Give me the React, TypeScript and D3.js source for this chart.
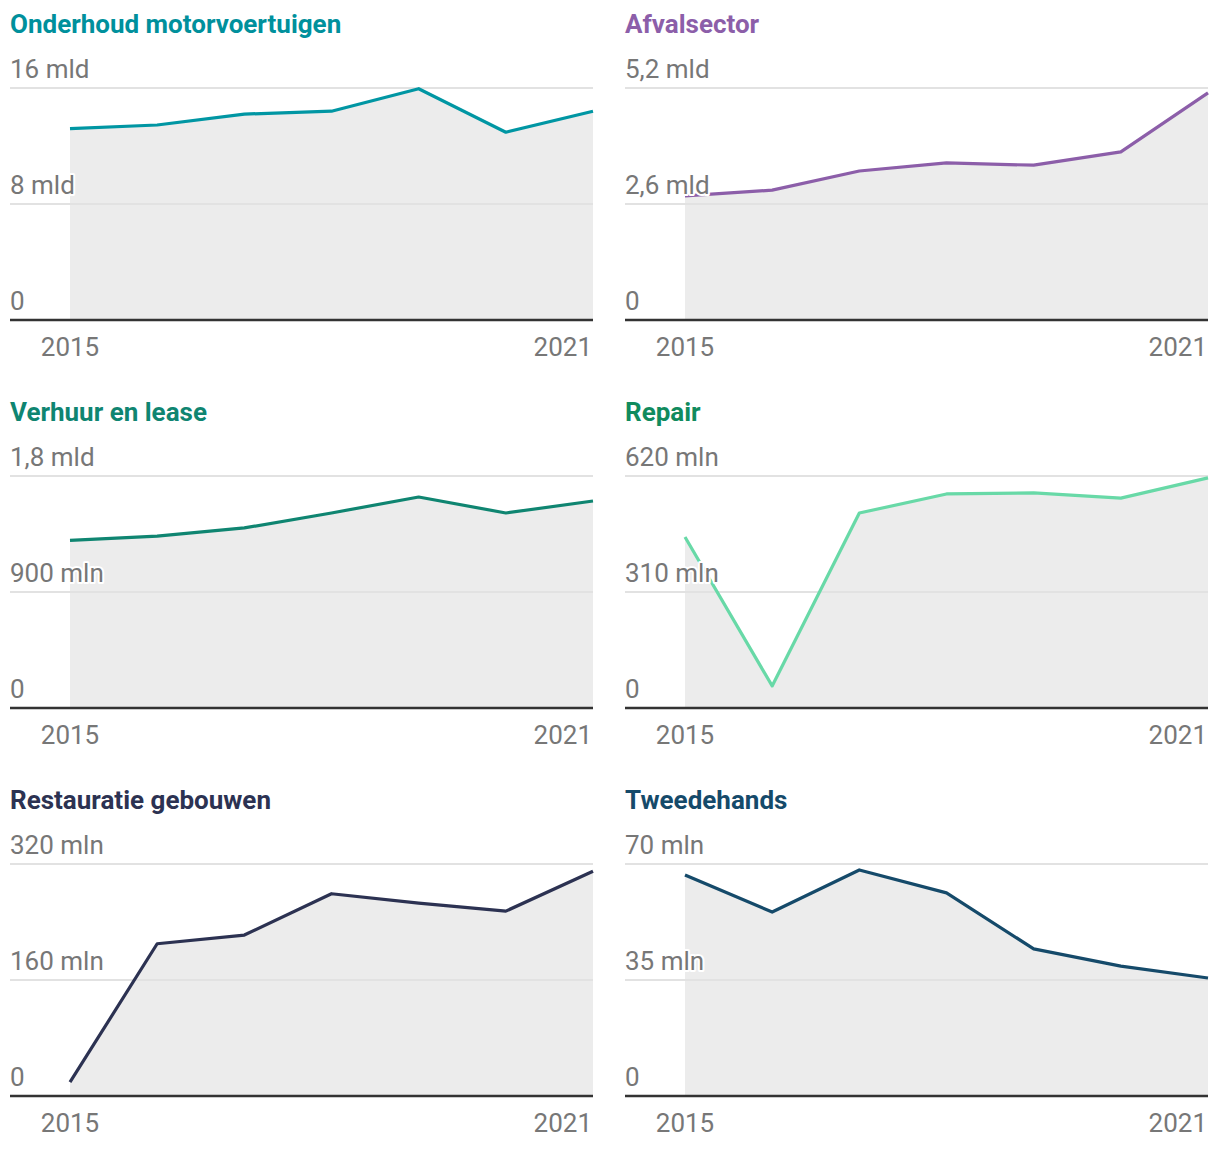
// @ts-nocheck
import React from "react";
import * as d3 from "d3";

const years = [2015, 2016, 2017, 2018, 2019, 2020, 2021];

const titles = [
  "Onderhoud motorvoertuigen",
  "Afvalsector",
  "Verhuur en lease",
  "Repair",
  "Restauratie gebouwen",
  "Tweedehands",
];

const colors = ["#0096a3", "#8c5ea9", "#0f8571", "#68d9a7", "#2c3252", "#154a6a"];
const titleColors = ["#00909c", "#8c5ea9", "#0f8571", "#108b5e", "#2c3252", "#154a6a"];

// values in mld / mln as in the axis units
const onderhoud = [13.2, 13.45, 14.2, 14.4, 15.95, 12.95, 14.4];
const afval = [2.78, 2.91, 3.34, 3.52, 3.47, 3.77, 5.09];
const verhuur = [1.3, 1.334, 1.397, 1.513, 1.637, 1.513, 1.606];
const repair = [457, 59, 521, 572, 575, 561, 615];
const restauratie = [19, 210, 222, 279, 266, 255, 310];
const tweedehands = [66.7, 55.5, 68.2, 61.3, 44.4, 39.2, 35.6];

const series = [onderhoud, afval, verhuur, repair, restauratie, tweedehands];
const maxima = [16, 5.2, 1.8, 620, 320, 70];
const tickLabels = [
  ["0", "8 mld", "16 mld"],
  ["0", "2,6 mld", "5,2 mld"],
  ["0", "900 mln", "1,8 mld"],
  ["0", "310 mln", "620 mln"],
  ["0", "160 mln", "320 mln"],
  ["0", "35 mln", "70 mln"],
];

const W = 1220;
const H = 1154;
const font = "Roboto, 'Noto Sans', sans-serif";

const Panel = ({ i }) => {
  const col = i % 2;
  const row = Math.floor(i / 2);
  const left = 10 + col * 615;
  const right = left + 583;
  const top = 88 + row * 388;
  const bottom = top + 232;
  const data = series[i];

  const x = d3.scaleLinear().domain([2015, 2021]).range([left + 60, right]);
  const y = d3.scaleLinear().domain([0, maxima[i]]).range([bottom, top]);
  const ticks = [0, maxima[i] / 2, maxima[i]];

  const line = d3
    .line()
    .x((d, k) => x(years[k]))
    .y((d) => y(d));
  const area = d3
    .area()
    .x((d, k) => x(years[k]))
    .y0(y(0))
    .y1((d) => y(d));

  return (
    <g>
      <text x={left} y={top - 55} fontSize={26} fontWeight={700} fill={titleColors[i]} fontFamily={font}>
        {titles[i]}
      </text>
      <path d={area(data)} fill="#ececec" />
      {ticks.slice(1).map((t) => (
        <line key={t} x1={left} x2={right} y1={y(t)} y2={y(t)} stroke="#e2e2e2" strokeWidth={2} />
      ))}
      <path d={line(data)} fill="none" stroke={colors[i]} strokeWidth={3.2} strokeLinejoin="round" />
      {ticks.map((t, k) => (
        <text
          key={k}
          x={left}
          y={y(t) - 10}
          fontSize={26}
          fill="#777"
          fontFamily={font}
          stroke="#fff"
          strokeWidth={4}
          paintOrder="stroke"
          strokeLinejoin="round"
        >
          {tickLabels[i][k]}
        </text>
      ))}
      <line x1={left} x2={right} y1={bottom} y2={bottom} stroke="#333" strokeWidth={2.5} />
      <text x={x(2015)} y={bottom + 36} fontSize={26} fill="#777" fontFamily={font} textAnchor="middle">
        2015
      </text>
      <text x={right - 1} y={bottom + 36} fontSize={26} fill="#777" fontFamily={font} textAnchor="end">
        2021
      </text>
    </g>
  );
};

export default function App() {
  return (
    <svg width={W} height={H} style={{ position: "absolute", left: 0, top: 0, background: "#fff" }}>
      {titles.map((t, i) => (
        <Panel key={t} i={i} />
      ))}
    </svg>
  );
}
